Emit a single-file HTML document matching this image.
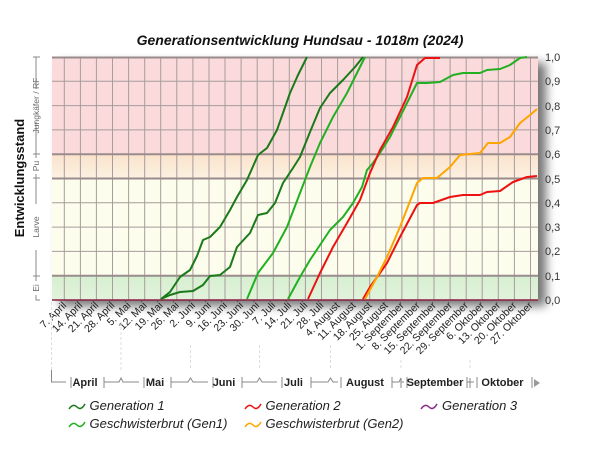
<!DOCTYPE html>
<html><head><meta charset="utf-8"><style>
html,body{margin:0;padding:0;background:#fff;}
svg{display:block;font-family:"Liberation Sans",sans-serif;}
</style></head><body>
<svg width="600" height="450" viewBox="0 0 600 450" xmlns="http://www.w3.org/2000/svg">
<defs>
<filter id="sh" x="-5%" y="-5%" width="115%" height="120%">
<feGaussianBlur in="SourceAlpha" stdDeviation="5"/>
<feOffset dx="8" dy="6"/>
<feComponentTransfer><feFuncA type="linear" slope="0.55"/></feComponentTransfer>
<feMerge><feMergeNode/><feMergeNode in="SourceGraphic"/></feMerge>
</filter>
<linearGradient id="pu" x1="0" y1="0" x2="0" y2="1"><stop offset="0" stop-color="#fae2cc"/><stop offset="1" stop-color="#fcf1e2"/></linearGradient>
<linearGradient id="ei" x1="0" y1="0" x2="0" y2="1"><stop offset="0" stop-color="#d6efd0"/><stop offset="1" stop-color="#e2f3dc"/></linearGradient>
</defs>
<text x="300" y="45" text-anchor="middle" font-size="14" font-weight="bold" font-style="italic" fill="#111">Generationsentwicklung Hundsau - 1018m (2024)</text>

<rect x="52" y="57" width="486" height="243" fill="#fff" filter="url(#sh)"/>
<rect x="52" y="57" width="486" height="97.2" fill="#fadadb"/>
<rect x="52" y="154.2" width="486" height="24.3" fill="url(#pu)"/>
<rect x="52" y="178.5" width="486" height="97.2" fill="#fcfdec"/>
<rect x="52" y="275.7" width="486" height="24.3" fill="url(#ei)"/>

<g stroke="#a89c9c" stroke-width="1">
<path d="M64.3 57V300M80.4 57V300M96.4 57V300M112.5 57V300M128.6 57V300M144.7 57V300M160.7 57V300M176.8 57V300M192.9 57V300M209 57V300M225 57V300M241.1 57V300M257.2 57V300M273.3 57V300M289.3 57V300M305.4 57V300M321.5 57V300M337.6 57V300M353.6 57V300M369.7 57V300M385.8 57V300M401.9 57V300M417.9 57V300M434 57V300M450.1 57V300M466.2 57V300M482.2 57V300M498.3 57V300M514.4 57V300M530.5 57V300"/>
<path d="M52 81.3H538M52 105.6H538M52 129.9H538M52 202.8H538M52 227.1H538M52 251.4H538"/>
</g>
<g stroke="#9a8c8c" stroke-width="2">
<path d="M52 57.5H538M52 154.2H538M52 178.5H538M52 275.7H538"/>
</g>
<path d="M52 300H538" stroke="#8a2040" stroke-width="1.5"/>

<g fill="none" stroke-width="2" stroke-linejoin="round">
<polyline stroke="#1a7a1a" points="161,299 170,292 180,277 190,270 197,256 203,240 210,237 220,227 230,210 237,197 247,180 258,155 267,148 277,130 290,93 298,75 307,57"/>
<polyline stroke="#1a7a1a" points="161,299 170,295 180,292 193,291 203,285 210,276 220,275 230,267 237,247 250,233 258,215 267,213 275,203 283,183 293,168 300,157 310,132 320,108 330,93 343,80 355,67 363,57"/>
<polyline stroke="#22b022" points="247,299 258,273 273,253 287,227 300,193 310,167 320,143 333,117 347,93 365,57"/>
<polyline stroke="#22b022" points="288,299 300,277 310,260 320,245 330,230 343,217 353,203 362,187 367,170 373,163 380,153 390,137 400,117 410,97 417,83 427,83 440,82 453,75 463,73 480,73 487,70 500,69 510,65 520,58 527,57"/>
<polyline stroke="#ee1111" points="308,299 320,273 333,247 347,223 360,200 370,173 380,150 393,127 407,97 417,65 425,58 440,58"/>
<polyline stroke="#ee1111" points="363,299 370,287 380,273 387,263 400,237 417,205 420,203 433,203 450,197 463,195 480,195 487,192 500,191 513,182 527,177 537,176"/>
<polyline stroke="#ffa500" points="365,299 377,277 387,257 400,227 417,183 423,178 437,178 450,167 460,155 470,154 480,153 488,143 500,143 510,137 520,123 530,115 537,109"/>
</g>

<g font-size="11" fill="#333">
<text x="545" y="61">1,0</text><text x="545" y="85">0,9</text><text x="545" y="110">0,8</text><text x="545" y="134">0,7</text><text x="545" y="158">0,6</text><text x="545" y="183">0,5</text><text x="545" y="207">0,4</text><text x="545" y="231">0,3</text><text x="545" y="255">0,2</text><text x="545" y="280">0,1</text><text x="545" y="304">0,0</text>
</g>

<text transform="translate(24,178) rotate(-90)" text-anchor="middle" font-size="13" font-weight="bold" fill="#111">Entwicklungsstand</text>
<g stroke="#888" fill="none" stroke-width="1">
<path d="M40 57H36V89M36 122V154H40M33 154H40M40 154H36V158M36 174V178H40M33 178H40M40 178H36V204M36 250V276H40M33 276H40M40 276H36V281M36 295V300H40M33 57H36"/>
</g>
<g font-size="8.5" fill="#666" text-anchor="middle">
<text transform="translate(39,105.6) rotate(-90)">Jungkäfer / RF</text>
<text transform="translate(39,166) rotate(-90)">Pu</text>
<text transform="translate(39,227) rotate(-90)">Larve</text>
<text transform="translate(39,288) rotate(-90)">Ei</text>
</g>

<g font-size="10.5" fill="#222" text-anchor="end">
<text transform="translate(67,306) rotate(-45)">7. April</text>
<text transform="translate(83.1,306) rotate(-45)">14. April</text>
<text transform="translate(99.1,306) rotate(-45)">21. April</text>
<text transform="translate(115.2,306) rotate(-45)">28. April</text>
<text transform="translate(131.3,306) rotate(-45)">5. Mai</text>
<text transform="translate(147.4,306) rotate(-45)">12. Mai</text>
<text transform="translate(163.4,306) rotate(-45)">19. Mai</text>
<text transform="translate(179.5,306) rotate(-45)">26. Mai</text>
<text transform="translate(195.6,306) rotate(-45)">2. Juni</text>
<text transform="translate(211.7,306) rotate(-45)">9. Juni</text>
<text transform="translate(227.7,306) rotate(-45)">16. Juni</text>
<text transform="translate(243.8,306) rotate(-45)">23. Juni</text>
<text transform="translate(259.9,306) rotate(-45)">30. Juni</text>
<text transform="translate(276,306) rotate(-45)">7. Juli</text>
<text transform="translate(292,306) rotate(-45)">14. Juli</text>
<text transform="translate(308.1,306) rotate(-45)">21. Juli</text>
<text transform="translate(324.2,306) rotate(-45)">28. Juli</text>
<text transform="translate(340.3,306) rotate(-45)">4. August</text>
<text transform="translate(356.3,306) rotate(-45)">11. August</text>
<text transform="translate(372.4,306) rotate(-45)">18. August</text>
<text transform="translate(388.5,306) rotate(-45)">25. August</text>
<text transform="translate(404.6,306) rotate(-45)">1. September</text>
<text transform="translate(420.6,306) rotate(-45)">8. September</text>
<text transform="translate(436.7,306) rotate(-45)">15. September</text>
<text transform="translate(452.8,306) rotate(-45)">22. September</text>
<text transform="translate(468.9,306) rotate(-45)">29. September</text>
<text transform="translate(484.9,306) rotate(-45)">6. Oktober</text>
<text transform="translate(501,306) rotate(-45)">13. Oktober</text>
<text transform="translate(517.1,306) rotate(-45)">20. Oktober</text>
<text transform="translate(533.2,306) rotate(-45)">27. Oktober</text>
</g>

<g stroke="#ddd" stroke-width="1" stroke-dasharray="3,2">
<path d="M51.5 302V370M121 322V370M190.5 345V370M259.5 345V370M330.5 345V370M401 360V370M470 360V370"/>
</g>
<g stroke="#888" fill="none" stroke-width="1">
<path d="M51.5 370V382H66M71 377V388M104 377V388M104 382H119L121 378L123 382H139M144 377V388M171 377V388M171 382H188L190.5 378L193 382H208M213 377V388M242 377V388M242 382H257L259.5 378L262 382H277M282 377V388M311 377V388M311 382H328L330.5 378L333 382H338M341 377V388M392 377V388M392 382H399L401 378V388M401 382H404M407 377V388M467 377V388M467 382H470M470 378V388M470 382H474M477 377V388M532 377V388"/>
</g>
<path d="M534 379L540 383L534 387Z" fill="#999"/>
<g font-size="11" font-weight="bold" fill="#222" text-anchor="middle">
<text x="85" y="386">April</text><text x="155" y="386">Mai</text><text x="224" y="386">Juni</text><text x="293.5" y="386">Juli</text><text x="365" y="386">August</text><text x="435" y="386">September</text><text x="502.5" y="386">Oktober</text>
</g>

<g fill="none" stroke-width="1.5">
<path d="M69 409q4-6 8-2t8-3" stroke="#1a7a1a"/>
<path d="M69 427q4-6 8-2t8-3" stroke="#22b022"/>
<path d="M245 409q4-6 8-2t8-3" stroke="#ee1111"/>
<path d="M245 427q4-6 8-2t8-3" stroke="#ffa500"/>
<path d="M421 409q4-6 8-2t8-3" stroke="#8a2a8a"/>
</g>
<g font-size="13" font-style="italic" fill="#222">
<text x="89.5" y="410">Generation 1</text>
<text x="89.5" y="428">Geschwisterbrut (Gen1)</text>
<text x="265.5" y="410">Generation 2</text>
<text x="265.5" y="428">Geschwisterbrut (Gen2)</text>
<text x="442" y="410">Generation 3</text>
</g>
</svg>
</body></html>
